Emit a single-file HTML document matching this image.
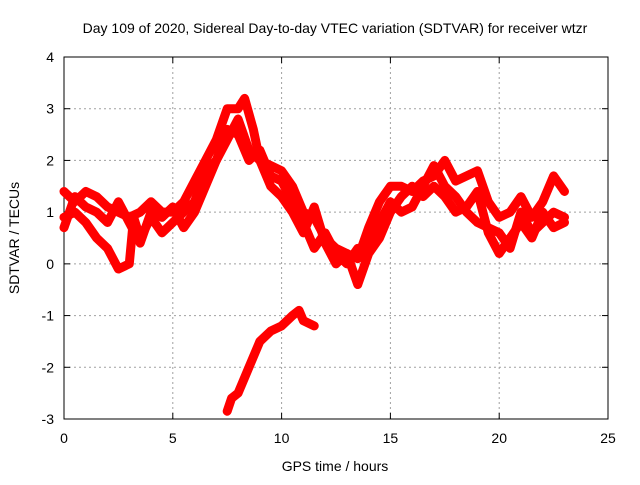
<!DOCTYPE html>
<html><head><meta charset="utf-8"><style>
body{margin:0;background:#fff}
svg text{font-family:"Liberation Sans",sans-serif;font-size:14px;fill:#000}
</style></head><body>
<svg id="chart" width="640" height="480">
<text x="335" y="33" text-anchor="middle">Day 109 of 2020, Sidereal Day-to-day VTEC variation (SDTVAR) for receiver wtzr</text>
<g id="grid"></g>
<g id="axes"></g>
<g id="series"></g>
<text x="335" y="471" text-anchor="middle">GPS time / hours</text>
<text transform="translate(19,238) rotate(-90)" text-anchor="middle">SDTVAR / TECUs</text>
</svg>
<script>
const xTicks=[0,5,10,15,20,25];
const yTicks=[-3,-2,-1,0,1,2,3,4];
const seriesA=[[0,1.4],[0.5,1.2],[1,1.4],[1.5,1.3],[2,1.1],[2.5,1.0],[3,0.9],[3.5,1.0],[4,1.2],[4.5,1.0],[5,1.0],[5.5,1.2],[6,1.6],[6.5,2.0],[7,2.4],[7.5,3.0],[8,3.0],[8.3,3.2],[8.7,2.6],[9,2.0],[9.5,1.9],[10,1.8],[10.5,1.5],[11,1.0],[11.5,0.9],[12,0.5],[12.5,0.3],[13,0.2],[13.5,0.1],[14,0.7],[14.5,1.2],[15,1.5],[15.5,1.5],[16,1.4],[16.5,1.6],[17,1.7],[17.5,2.0],[18,1.6],[18.5,1.7],[19,1.8],[19.5,1.2],[20,0.9],[20.5,1.0],[21,1.3],[21.5,0.9],[22,1.2],[22.5,1.7],[23,1.4]];
const seriesB=[[0,0.9],[0.5,1.0],[1,0.8],[1.5,0.5],[2,0.3],[2.5,-0.1],[3,0.0],[3.2,0.9],[3.5,0.5],[4,0.9],[4.5,0.6],[5,0.8],[5.5,1.0],[6,1.2],[6.5,1.8],[7,2.0],[7.5,2.4],[8,2.8],[8.5,2.2],[9,2.0],[9.5,1.5],[10,1.3],[10.5,1.0],[11,0.6],[11.5,1.1],[12,0.4],[12.5,0.0],[13,0.2],[13.5,-0.4],[14,0.2],[14.5,0.5],[15,1.0],[15.5,1.3],[16,1.5],[16.5,1.3],[17,1.5],[17.5,1.3],[18,1.0],[18.5,1.1],[19,1.4],[19.5,0.6],[20,0.2],[20.5,0.5],[21,0.8],[21.5,0.5],[22,1.0],[22.5,0.7],[23,0.8]];
const seriesC=[[0,0.7],[0.5,1.3],[1,1.1],[1.5,1.0],[2,0.8],[2.5,1.2],[3,0.8],[3.5,0.4],[4,1.0],[4.5,0.9],[5,1.1],[5.5,0.7],[6,1.0],[6.5,1.5],[7,2.0],[7.5,2.6],[8,2.5],[8.5,2.0],[9,2.2],[9.5,1.7],[10,1.6],[10.5,1.2],[11,0.8],[11.5,0.3],[12,0.6],[12.5,0.2],[13,0.0],[13.5,0.3],[14,0.3],[14.5,0.8],[15,1.2],[15.5,1.0],[16,1.1],[16.5,1.5],[17,1.9],[17.5,1.5],[18,1.3],[18.5,1.0],[19,0.8],[19.5,0.7],[20,0.6],[20.5,0.3],[21,1.0],[21.5,0.6],[22,0.8],[22.5,1.0],[23,0.9]];
const seriesD=[[7.5,-2.85],[7.7,-2.6],[8,-2.5],[8.5,-2.0],[9,-1.5],[9.5,-1.3],[10,-1.2],[10.5,-1.0],[10.8,-0.9],[11,-1.1],[11.5,-1.2]];
const X0=64,X1=608,Y0=419,Y1=57,xMin=0,xMax=25,yMin=-3,yMax=4;
function xs(v){return X0+(v-xMin)/(xMax-xMin)*(X1-X0);}
function ys(v){return Y0-(v-yMin)/(yMax-yMin)*(Y0-Y1);}
const NS='http://www.w3.org/2000/svg';
function mk(t,a,p){const e=document.createElementNS(NS,t);for(const k in a)e.setAttribute(k,a[k]);p.appendChild(e);return e;}
const grid=document.getElementById('grid'),axes=document.getElementById('axes'),ser=document.getElementById('series');
xTicks.forEach(t=>{const x=xs(t);
 if(t>xMin&&t<xMax){const g=mk('line',{x1:x,x2:x,y1:Y1,y2:Y0,stroke:'#a0a0a0','stroke-dasharray':'2,3'},grid);}
 const tk=mk('line',{x1:x,x2:x,y1:Y0,y2:Y0-6,stroke:'#000'},axes);
 const tk2=mk('line',{x1:x,x2:x,y1:Y1,y2:Y1+6,stroke:'#000'},axes);
 const l=mk('text',{x:x,y:443,'text-anchor':'middle'},axes);l.textContent=t;});
yTicks.forEach(t=>{const y=ys(t);
 if(t>yMin&&t<yMax){const g=mk('line',{x1:X0,x2:X1,y1:y,y2:y,stroke:'#a0a0a0','stroke-dasharray':'2,3'},grid);}
 const tk=mk('line',{x1:X0,x2:X0+6,y1:y,y2:y,stroke:'#000'},axes);
 const tk2=mk('line',{x1:X1,x2:X1-6,y1:y,y2:y,stroke:'#000'},axes);
 const l=mk('text',{x:54,y:y+5,'text-anchor':'end'},axes);l.textContent=t;});
const fr=mk('rect',{x:X0,y:Y1,width:X1-X0,height:Y0-Y1,fill:'none',stroke:'#000'},axes);


[['series-a',seriesA],['series-b',seriesB],['series-c',seriesC],['series-d',seriesD]].forEach(([n,d])=>{
 const p=mk('polyline',{points:d.map(q=>xs(q[0])+','+ys(q[1])).join(' '),fill:'none',stroke:'#ff0000','stroke-width':9,'stroke-linejoin':'round','stroke-linecap':'round'},ser);
 
 
});
</script>
</body></html>
